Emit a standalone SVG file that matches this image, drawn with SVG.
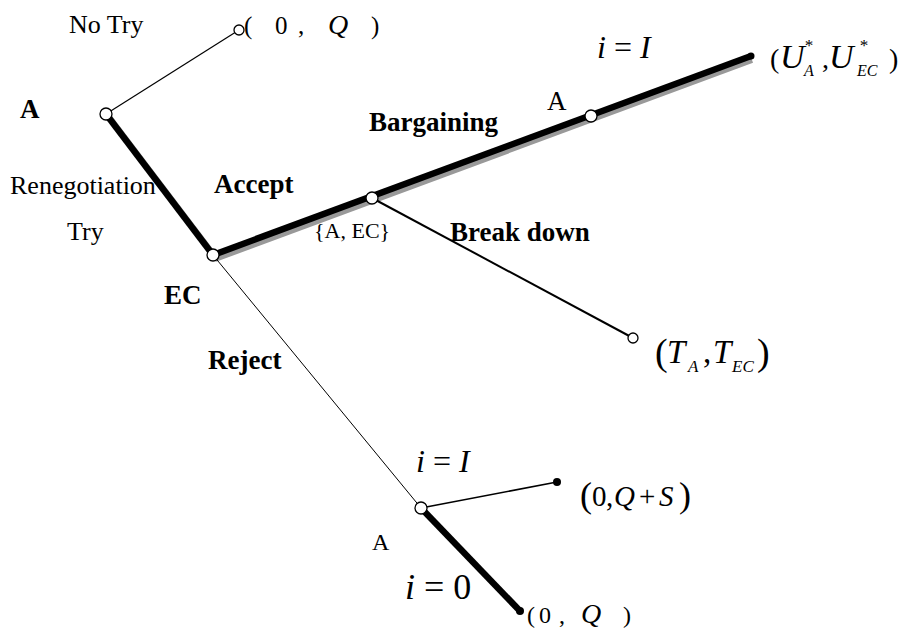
<svg xmlns="http://www.w3.org/2000/svg" width="905" height="635" viewBox="0 0 905 635">
<style>
text{font-family:"Liberation Serif","Times New Roman",serif;fill:#000}
.t{font-size:26px}
.b{font-size:27px;font-weight:bold}
.m{font-style:italic}
.thick{stroke:#000;stroke-width:6.5;fill:none}
.shadow{stroke:#999;stroke-width:6;fill:none}
.thin{stroke:#000;stroke-width:1.2;fill:none}
.open{fill:#fff;stroke:#000;stroke-width:1.3}
</style>
<rect width="905" height="635" fill="#fff"/>
<g id="labels">
  <text class="t" x="69" y="33">No Try</text>
  <text class="t" x="10" y="194">Renegotiation</text>
  <text class="t" x="67" y="240">Try</text>
  <text class="b" x="214" y="193">Accept</text>
  <text class="b" x="369" y="131">Bargaining</text>
  <text class="b" x="450" y="241">Break down</text>
  <text class="b" x="208" y="369">Reject</text>
  <text x="597" y="58" style="font-size:32px"><tspan class="m">i</tspan> = <tspan class="m">I</tspan></text>
  <text x="416" y="472" style="font-size:32px"><tspan class="m">i</tspan> = <tspan class="m">I</tspan></text>
  <text x="405" y="599" style="font-size:36px"><tspan class="m">i</tspan> = 0</text>
</g>
<g id="connectors">
  <line class="thin" x1="106" y1="114" x2="239" y2="30"/>
  <line class="shadow" x1="109" y1="117" x2="216" y2="258"/>
  <line class="thick" x1="106" y1="114" x2="213" y2="255"/>
  <line class="shadow" x1="215" y1="259" x2="752" y2="60"/>
  <line class="thick" x1="213" y1="255" x2="751" y2="56"/>
  <line stroke="#000" stroke-width="2" x1="372" y1="198" x2="633" y2="338"/>
  <line stroke="#000" stroke-width="1" x1="213" y1="255" x2="421" y2="508"/>
  <line stroke="#000" stroke-width="1.5" x1="421" y1="508" x2="557" y2="482"/>
  <line class="thick" x1="421" y1="508" x2="520" y2="611"/>
</g>
<g id="node-A-root"><circle class="open" cx="106" cy="114" r="6"/><text class="b" x="20" y="118">A</text></g>
<g id="node-notry"><circle class="open" cx="239" cy="30" r="5"/><text style="font-size:25px" y="34"><tspan x="244">(</tspan><tspan x="275">0</tspan><tspan x="298">,</tspan><tspan class="m" x="328" style="font-size:28px">Q</tspan><tspan x="371">)</tspan></text></g>
<g id="node-EC"><circle class="open" cx="213" cy="255" r="6"/><text class="b" x="164" y="304">EC</text></g>
<g id="node-AEC"><circle class="open" cx="372" cy="198" r="6"/><text x="314" y="238" style="font-size:22px">{A, EC}</text></g>
<g id="node-A-barg"><circle class="open" cx="591" cy="116" r="6"/><text x="547" y="110" style="font-size:27px">A</text></g>
<g id="node-U"><circle cx="751" cy="56" r="3.5" fill="#000"/><text style="font-size:28px"><tspan x="770" y="68">(</tspan><tspan class="m" x="780" y="68" style="font-size:34px">U</tspan><tspan class="m" x="804" y="51" style="font-size:17px">*</tspan><tspan class="m" x="804" y="76" style="font-size:16px">A</tspan><tspan x="822" y="68">,</tspan><tspan class="m" x="829" y="68" style="font-size:34px">U</tspan><tspan class="m" x="859" y="51" style="font-size:17px">*</tspan><tspan class="m" x="857" y="76" style="font-size:16px">EC</tspan><tspan x="889" y="68">)</tspan></text></g>
<g id="node-T"><circle class="open" cx="633" cy="338" r="5"/><text style="font-size:33px"><tspan x="655" y="365" style="font-size:38px">(</tspan><tspan class="m" x="667" y="363">T</tspan><tspan class="m" x="688" y="372" style="font-size:17px">A</tspan><tspan x="703" y="363">,</tspan><tspan class="m" x="713" y="363">T</tspan><tspan class="m" x="732" y="372" style="font-size:17px">EC</tspan><tspan x="757" y="365" style="font-size:38px">)</tspan></text></g>
<g id="node-A-low"><circle class="open" cx="421" cy="508" r="6"/><text x="372" y="550" style="font-size:24px">A</text></g>
<g id="node-QS"><circle cx="557" cy="482" r="4" fill="#000"/><text style="font-size:29px"><tspan x="580" y="507" style="font-size:36px">(</tspan><tspan x="592" y="506">0</tspan><tspan x="606" y="506">,</tspan><tspan class="m" x="614" y="506">Q</tspan><tspan x="639" y="506">+</tspan><tspan class="m" x="659" y="506">S</tspan><tspan x="679" y="507" style="font-size:36px">)</tspan></text></g>
<g id="node-Q"><circle cx="520" cy="611" r="4" fill="#000"/><text style="font-size:24px" y="623"><tspan x="527">(</tspan><tspan x="539">0</tspan><tspan x="559">,</tspan><tspan class="m" x="581" style="font-size:28px">Q</tspan><tspan x="623">)</tspan></text></g>
</svg>
